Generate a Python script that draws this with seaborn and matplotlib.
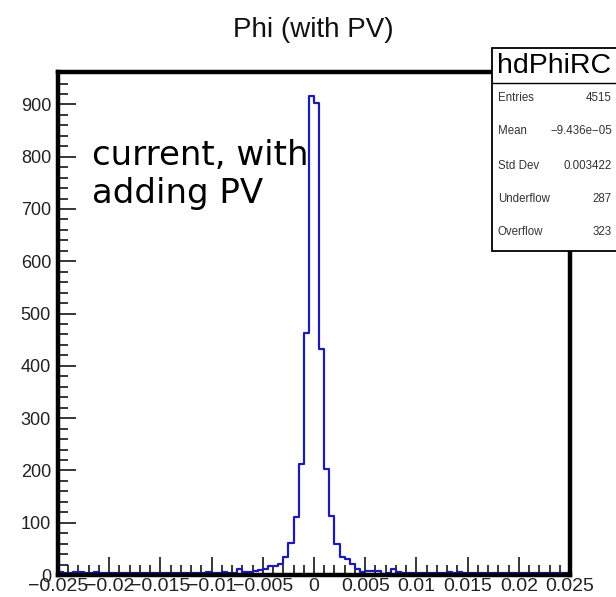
import numpy as np
import pandas as pd
import matplotlib
matplotlib.use("Agg")
import matplotlib.pyplot as plt
import matplotlib.lines as mlines
import seaborn as sns
from matplotlib.ticker import MultipleLocator, FixedLocator, FixedFormatter
from matplotlib.patches import Rectangle

sns.set_style("white")
plt.rcParams['font.family'] = ['Liberation Sans', 'DejaVu Sans']

# histogram definition
x_low, x_high, n_bins = -0.025, 0.025, 100
counts = [
    5, 3, 3, 5, 5, 3, 3, 5, 4, 3, 3, 3, 3, 3, 3, 3, 3, 3, 3, 3,
    3, 3, 3, 3, 3, 3, 3, 3, 3, 5, 3, 3, 5, 3, 3, 11, 6, 6, 8, 9,
    12, 17, 17, 21, 35, 61, 110, 212, 462, 916, 903, 433, 203, 113, 60, 35, 30, 21, 12, 5,
    8, 8, 8, 2, 4, 12, 6, 3, 3, 4, 4, 3, 3, 3, 3, 3, 5, 3, 5, 3,
    3, 3, 3, 3, 3, 3, 3, 3, 3, 3, 3, 3, 3, 3, 3, 3, 3, 3, 3, 3,
]
x_tick_values = [-0.025, -0.02, -0.015, -0.01, -0.005, 0, 0.005, 0.01, 0.015, 0.02, 0.025]
x_tick_labels = ["\u22120.025", "\u22120.02", "\u22120.015", "\u22120.01", "\u22120.005", "0",
                 "0.005", "0.01", "0.015", "0.02", "0.025"]
y_tick_values = [0, 100, 200, 300, 400, 500, 600, 700, 800, 900]

title = "Phi (with PV)"
hist_name = "hdPhiRC"
stat_names = ["Entries", "Mean", "Std Dev", "Underflow", "Overflow"]
stat_values = ["4515", "\u22129.436e\u221205", "0.003422", "287", "323"]
annotation = ["current, with", "adding PV"]

bin_width = (x_high - x_low) / n_bins
centers = [x_low + (i + 0.5) * bin_width for i in range(n_bins)]
df = pd.DataFrame({"phi": centers, "count": counts})

W, H = 616, 597
fig = plt.figure(figsize=(W / 100, H / 100), dpi=100)
fig.patch.set_facecolor("white")


def fx(px):
    return px / W


def fy(py):
    return 1 - py / H


ax = fig.add_axes([fx(58), fy(575), (570 - 58) / W, (575 - 72) / H])
sns.histplot(data=df, x="phi", weights="count", bins=n_bins, binrange=(x_low, x_high),
             element="step", fill=False, color="#1c1cb4", linewidth=1.6, ax=ax)
ax.set_xlim(x_low, x_high)
ax.set_ylim(0, 962)
ax.set_xlabel("")
ax.set_ylabel("")
ax.grid(False)

for s in ax.spines.values():
    s.set_linewidth(3.2)
    s.set_color("black")
    s.set_visible(True)

ax.xaxis.set_major_locator(FixedLocator(x_tick_values))
ax.xaxis.set_major_formatter(FixedFormatter(x_tick_labels))
ax.xaxis.set_minor_locator(MultipleLocator(0.001))
ax.yaxis.set_major_locator(FixedLocator(y_tick_values))
ax.yaxis.set_minor_locator(MultipleLocator(20))
ax.tick_params(axis="both", which="major", direction="in", length=13, width=1.1,
               color="black", labelcolor="#222222")
ax.tick_params(axis="both", which="minor", direction="in", length=7, width=1.1, color="black")
ax.tick_params(axis="x", which="both", bottom=True, top=False, pad=2, labelsize=14)
ax.tick_params(axis="y", which="both", left=True, right=False, pad=5, labelsize=13)

# title
fig.text(fx(313), fy(37), title, ha="center", va="baseline", fontsize=20, color="#111111")

# annotation
fig.text(fx(92), fy(165), annotation[0], ha="left", va="baseline", fontsize=24.5,
         family="DejaVu Sans", color="black")
fig.text(fx(92), fy(203), annotation[1], ha="left", va="baseline", fontsize=24.5,
         family="DejaVu Sans", color="black")

# stats box
box_left, box_top, box_bottom = 492, 48, 251
fig.patches.append(Rectangle((fx(box_left), fy(box_bottom)), (W + 10 - box_left) / W,
                             (box_bottom - box_top) / H, transform=fig.transFigure,
                             facecolor="white", edgecolor="black", linewidth=1.3,
                             zorder=10))
fig.lines.append(mlines.Line2D([fx(box_left), 1.0], [fy(83), fy(83)],
                               transform=fig.transFigure, color="black",
                               linewidth=1.0, zorder=11))
fig.text(fx(554), fy(66), hist_name, ha="center", va="center", fontsize=20.5,
         color="black", zorder=12)
row_y = [98, 131, 166, 199, 232]
for name, val, yy in zip(stat_names, stat_values, row_y):
    fig.text(fx(498), fy(yy), name, ha="left", va="center", fontsize=8.3,
             color="#333333", zorder=12)
    fig.text(fx(612), fy(yy), val, ha="right", va="center", fontsize=8.3,
             color="#333333", zorder=12)

fig.savefig("out.png", dpi=100, facecolor="white")
